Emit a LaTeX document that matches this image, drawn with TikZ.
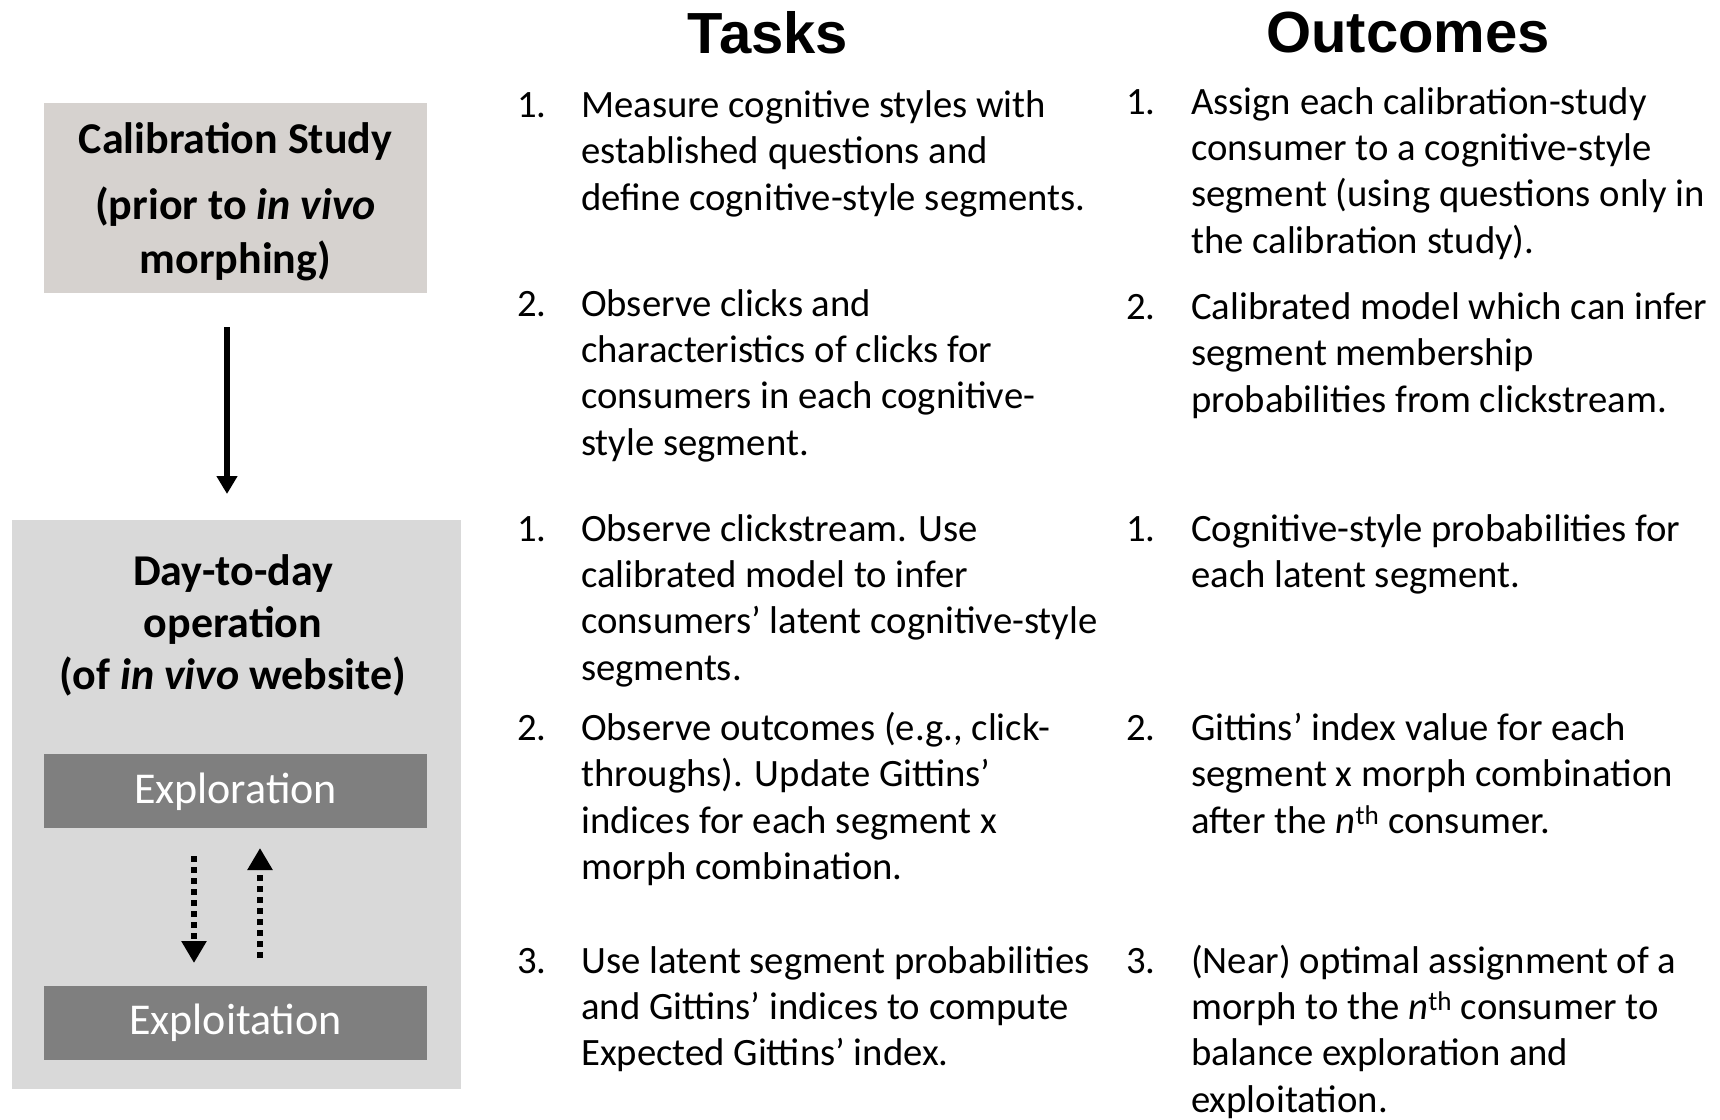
\documentclass[tikz,border=0pt]{standalone}
\usepackage{fontspec}
\setmainfont{Carlito}
\newfontfamily\headfont{Liberation Sans}
\usetikzlibrary{arrows.meta}

\definecolor{calibgray}{RGB}{214,210,207}
\definecolor{opgray}{RGB}{217,217,217}
\definecolor{phasegray}{RGB}{127,127,127}

% item texts are anchored at the baseline of their last line
\tikzset{
	item/.style={anchor=base west,inner sep=0pt,align=left,
		font=\fontsize{38.7}{46.4}\selectfont},
	num/.style={item},
	heading/.style={font=\headfont\bfseries\fontsize{58}{62}\selectfont,inner sep=0pt},
	phase/.style={fill=phasegray,text=white,minimum width=383pt,minimum height=74pt,
		inner sep=0pt,text height=28pt,text depth=4pt,font=\fontsize{44}{52}\selectfont},
	loop/.style={line width=6pt,dash pattern=on 6pt off 5pt,-{Triangle[width=24pt,length=22pt]}},
}

\begin{document}
\begin{tikzpicture}[x=1pt,y=-1pt]
	\useasboundingbox (0,0) rectangle (1720,1119);
	% left column
	\fill[opgray] (12,520) rectangle (461,1089);
	\node[fill=calibgray,minimum width=383pt,minimum height=190pt,inner sep=0pt] (calib) at (235.5,198) {};
	\node[align=center,font=\bfseries\fontsize{44}{54}\selectfont] (calibtext) at (235.5,202) {Calibration Study\\[12pt](prior to \textit{in vivo}\\morphing)};
	\node[align=center,font=\bfseries\fontsize{44}{52}\selectfont] (op) at (233,625) {Day-to-day\\operation\\(of \textit{in vivo} website)};
	\node[phase] (explore) at (235.5,791) {Exploration};
	\node[phase] (exploit) at (235.5,1022.5) {Exploitation};
	\coordinate (arrtop) at (227,327);
	\coordinate (arrbot) at (227,494);
	\draw[line width=5.5pt,-{Triangle[width=20pt,length=18pt]}] (arrtop) -- (arrbot);
	\coordinate (downtop) at (194,856);
	\coordinate (downbot) at (194,963);
	\coordinate (uptop) at (260,848);
	\coordinate (upbot) at (260,958);
	\draw[loop] (downtop) -- (downbot);
	\draw[loop] (upbot) -- (uptop);

	% headings
	\node[heading] (tasks) at (768,33) {Tasks};
	\node[heading] (outcomes) at (1408,33) {Outcomes};

	% tasks
	\node[num] (tn1) at (517,117.5) {1.};
	\node[item] (t1) at (581,210.3) {Measure cognitive styles with\\established questions and\\define cognitive-style segments.};
	\node[num] (tn2) at (517,316) {2.};
	\node[item] (t2) at (581,455.2) {Observe clicks and\\characteristics of clicks for\\consumers in each cognitive-\\style segment.};
	\node[num] (tn3) at (517,541) {1.};
	\node[item] (t3) at (581,680.2) {Observe clickstream. Use\\calibrated model to infer\\consumers’ latent cognitive-style\\segments.};
	\node[num] (tn4) at (517,740.5) {2.};
	\node[item] (t4) at (581,879.7) {Observe outcomes (e.g., click-\\throughs). Update Gittins’\\indices for each segment x\\morph combination.};
	\node[num] (tn5) at (517,973) {3.};
	\node[item] (t5) at (581,1065.8) {Use latent segment probabilities\\and Gittins’ indices to compute\\Expected Gittins’ index.};

	% outcomes
	\node[num] (on1) at (1126,114) {1.};
	\node[item] (o1) at (1191,253.2) {Assign each calibration-study\\consumer to a cognitive-style\\segment (using questions only in\\the calibration study).};
	\node[num] (on2) at (1126,319.5) {2.};
	\node[item] (o2) at (1191,412.3) {Calibrated model which can infer\\segment membership\\probabilities from clickstream.};
	\node[num] (on3) at (1126,541) {1.};
	\node[item] (o3) at (1191,587.4) {Cognitive-style probabilities for\\each latent segment.};
	\node[num] (on4) at (1126,740.5) {2.};
	\node[item] (o4) at (1191,833.3) {Gittins’ index value for each\\segment x morph combination\\after the \textit{n}\textsuperscript{th} consumer.};
	\node[num] (on5) at (1126,973) {3.};
	\node[item] (o5) at (1191,1112.2) {(Near) optimal assignment of a\\morph to the \textit{n}\textsuperscript{th} consumer to\\balance exploration and\\exploitation.};
\end{tikzpicture}
\end{document}
